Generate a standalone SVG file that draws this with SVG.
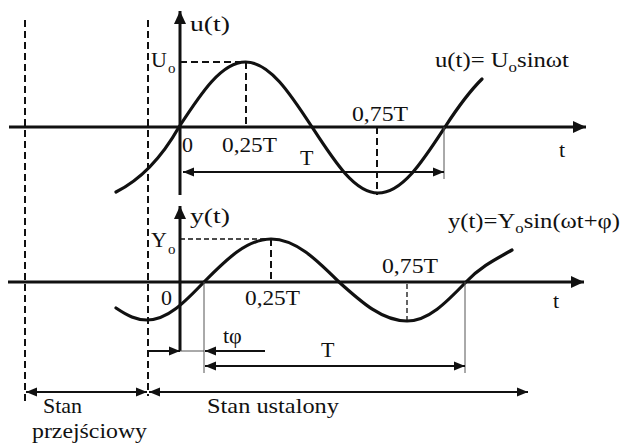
<svg xmlns="http://www.w3.org/2000/svg" width="623" height="446" viewBox="0 0 623 446">
<style>
text{font-family:"Liberation Serif","Times New Roman",serif;font-size:22px;fill:#111}
.sub{font-size:15px}
.axis{stroke:#111;stroke-width:3;fill:none}
.curve{stroke:#111;stroke-width:3.2;fill:none;stroke-linecap:round}
.dash{stroke:#111;stroke-width:2;stroke-dasharray:7 4;fill:none}
.dashf{stroke:#111;stroke-width:1.3;stroke-dasharray:5 3;fill:none}
.thin{stroke:#555;stroke-width:1;fill:none}
.dim{stroke:#111;stroke-width:2;fill:none}
</style>
<defs>
<marker id="ah" markerUnits="userSpaceOnUse" markerWidth="14" markerHeight="12" refX="13" refY="6" orient="auto-start-reverse"><path d="M0,0 L13,6 L0,12 z" fill="#111"/></marker>
<marker id="dh" markerUnits="userSpaceOnUse" markerWidth="12" markerHeight="10" refX="11" refY="5" orient="auto-start-reverse"><path d="M0,0.5 L11,5 L0,9.5 z" fill="#111"/></marker>
</defs>
<g id="state-boundaries">
<line class="dash" x1="25" y1="20" x2="25" y2="402"/>
<line class="dash" x1="148" y1="20" x2="148" y2="396"/>
</g>
<g id="top-plot">
<line class="axis" x1="9" y1="127" x2="586" y2="127" marker-end="url(#ah)"/>
<line class="axis" x1="180" y1="195" x2="180" y2="11" marker-end="url(#ah)"/>
<path class="curve" d="M116,192 C136,182 158,164 179,127 C201.2,92.9 221.5,62 245.5,62 C269.5,62 289.8,92.9 312,127 C334.2,161.1 354.5,193 378,193 C402.5,193 422.8,161.1 445,127 C457.3,108.1 469.7,91.1 482,79"/>
<line class="dash" x1="180" y1="62" x2="246" y2="62"/>
<line class="dash" x1="246" y1="62" x2="246" y2="127"/>
<line class="dash" x1="377" y1="127" x2="377" y2="195"/>
<line class="thin" x1="444" y1="127" x2="444" y2="179"/>
<text x="190" y="31" textLength="40" lengthAdjust="spacingAndGlyphs">u(t)</text>
<text x="151" y="67">U</text><text class="sub" x="168" y="73">o</text>
<text x="182" y="152">0</text>
<text x="222" y="152" textLength="55" lengthAdjust="spacingAndGlyphs">0,25T</text>
<text x="352" y="121" textLength="56" lengthAdjust="spacingAndGlyphs">0,75T</text>
<text x="300" y="165">T</text>
<text x="559" y="157">t</text>
<text x="435" y="67" textLength="134" lengthAdjust="spacingAndGlyphs">u(t)= U<tspan class="sub" dy="5">o</tspan><tspan dy="-5">sinωt</tspan></text>
</g>
<g id="bottom-plot">
<line class="axis" x1="8" y1="282" x2="584" y2="282" marker-end="url(#ah)"/>
<line class="axis" x1="180" y1="351" x2="180" y2="206" marker-end="url(#ah)"/>
<path class="curve" d="M116,308 C128,316 136,320 147,320 C167.5,320 184.9,302 204,282 C226.4,259.4 246.9,239 271,239 C295.5,239 316.3,259.4 339,282 C361.7,302.5 382.5,321 407,321 C428.3,321 446.3,302.5 466,282 C481,266 498,258 512,250"/>
<line class="dashf" x1="180" y1="239" x2="271" y2="239"/>
<line class="dash" x1="271" y1="239" x2="271" y2="282"/>
<line class="dashf" x1="407" y1="284" x2="407" y2="321" stroke-dasharray="6 6"/>
<line class="thin" x1="204" y1="282" x2="204" y2="373"/>
<line class="thin" x1="465" y1="282" x2="465" y2="373"/>
<line class="thin" x1="180" y1="351" x2="204" y2="351"/>
<text x="190" y="223" textLength="40" lengthAdjust="spacingAndGlyphs">y(t)</text>
<text x="151" y="247">Y</text><text class="sub" x="168" y="254">o</text>
<text x="161" y="305">0</text>
<text x="245" y="305" textLength="55" lengthAdjust="spacingAndGlyphs">0,25T</text>
<text x="382" y="273" textLength="56" lengthAdjust="spacingAndGlyphs">0,75T</text>
<text x="553" y="308">t</text>
<text x="448" y="228" textLength="172" lengthAdjust="spacingAndGlyphs">y(t)=Y<tspan class="sub" dy="5">o</tspan><tspan dy="-5">sin(ωt+φ)</tspan></text>
<text x="223" y="343">tφ</text>
<text x="321" y="357">T</text>
</g>
<g id="connectors">
<line class="dim" x1="183" y1="172" x2="444" y2="172" marker-start="url(#dh)" marker-end="url(#dh)"/>
<line class="dim" x1="148" y1="351" x2="180" y2="351" marker-end="url(#dh)"/>
<line class="dim" x1="265" y1="351" x2="205" y2="351" marker-end="url(#dh)"/>
<line class="dim" x1="205" y1="366" x2="465" y2="366" marker-start="url(#dh)" marker-end="url(#dh)"/>
<line class="dim" x1="26" y1="392" x2="147" y2="392" marker-start="url(#dh)" marker-end="url(#dh)"/>
<line class="dim" x1="149" y1="392" x2="528" y2="392" marker-start="url(#dh)" marker-end="url(#dh)"/>
</g>
<g id="labels">
<text x="43" y="413">Stan</text>
<text x="32" y="438" textLength="115" lengthAdjust="spacingAndGlyphs">przejściowy</text>
<text x="207" y="413" textLength="132" lengthAdjust="spacingAndGlyphs">Stan ustalony</text>
</g>
</svg>
